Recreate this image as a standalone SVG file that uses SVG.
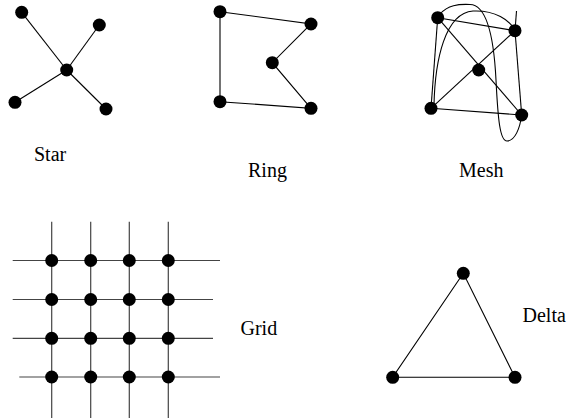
<svg xmlns="http://www.w3.org/2000/svg" width="569" height="418" viewBox="0 0 569 418">
<style>
.e{stroke:#000;stroke-width:1.1;fill:none}
.g{stroke:#444;stroke-width:1.2;fill:none}
.n{fill:#000}
.t{font-family:"Liberation Serif","Times New Roman",serif;font-size:20px;fill:#000}
</style>
<rect width="569" height="418" fill="#fff"/>
<g id="connectors">
<!-- Star -->
<line class="e" x1="21.7" y1="12.3" x2="66.7" y2="70"/>
<line class="e" x1="99.3" y1="25" x2="66.7" y2="70"/>
<line class="e" x1="15" y1="102.3" x2="66.7" y2="70"/>
<line class="e" x1="106" y1="109" x2="66.7" y2="70"/>
<!-- Ring -->
<polyline class="e" points="220,11.7 311,24 272.3,62.7 311,108.3 220,101.7 220,11.7"/>
<!-- Mesh -->
<line class="e" x1="437.7" y1="17.7" x2="515" y2="30.7"/>
<line class="e" x1="437.7" y1="17.7" x2="521.7" y2="115"/>
<line class="e" x1="515" y1="30.7" x2="431" y2="108.3"/>
<line class="e" x1="437.7" y1="17.7" x2="431" y2="108.3"/>
<line class="e" x1="515" y1="30.7" x2="521.7" y2="115"/>
<line class="e" x1="431" y1="108.3" x2="521.7" y2="115"/>
<line class="e" x1="516.5" y1="11" x2="515" y2="30.7"/>
<path class="e" d="M440,14 C448,5 458,4 470,4.5 C488,5 494,40 496,80 C498,120 500,141 507,141 C515,141 520,128 521.7,115"/>
<path class="e" d="M434,105 C435,60 445,13 473,11 C495,10 510,20 515,30.7"/>
<!-- Grid -->
<line class="g" x1="12.7" y1="260.5" x2="220" y2="260.5"/>
<line class="g" x1="12.7" y1="299.5" x2="213" y2="299.5"/>
<line class="g" x1="12.7" y1="338.3" x2="213" y2="338.3"/>
<line class="g" x1="19.3" y1="377" x2="220" y2="377"/>
<line class="g" x1="51.7" y1="221.7" x2="51.7" y2="418"/>
<line class="g" x1="90.7" y1="221.7" x2="90.7" y2="418"/>
<line class="g" x1="129.3" y1="221.7" x2="129.3" y2="418"/>
<line class="g" x1="168.3" y1="221.7" x2="168.3" y2="418"/>
<!-- Delta -->
<polygon class="e" points="463.3,273.3 392.7,377.3 515,377.3"/>
</g>
<g id="star">
<circle class="n" cx="21.7" cy="12.3" r="6.5"/>
<circle class="n" cx="99.3" cy="25" r="6.5"/>
<circle class="n" cx="66.7" cy="70" r="6.5"/>
<circle class="n" cx="15" cy="102.3" r="6.5"/>
<circle class="n" cx="106" cy="109" r="6.5"/>
<text class="t" x="34" y="161">Star</text>
</g>
<g id="ring">
<circle class="n" cx="220" cy="11.7" r="6.5"/>
<circle class="n" cx="311" cy="24" r="6.5"/>
<circle class="n" cx="272.3" cy="62.7" r="6.5"/>
<circle class="n" cx="220" cy="101.7" r="6.5"/>
<circle class="n" cx="311" cy="108.3" r="6.5"/>
<text class="t" x="248" y="177">Ring</text>
</g>
<g id="mesh">
<circle class="n" cx="437.7" cy="17.7" r="6.5"/>
<circle class="n" cx="515" cy="30.7" r="6.5"/>
<circle class="n" cx="478.7" cy="70" r="6.5"/>
<circle class="n" cx="431" cy="108.3" r="6.5"/>
<circle class="n" cx="521.7" cy="115" r="6.5"/>
<text class="t" x="459" y="177">Mesh</text>
</g>
<g id="grid">
<circle class="n" cx="51.7" cy="260.5" r="6.5"/>
<circle class="n" cx="90.7" cy="260.5" r="6.5"/>
<circle class="n" cx="129.3" cy="260.5" r="6.5"/>
<circle class="n" cx="168.3" cy="260.5" r="6.5"/>
<circle class="n" cx="51.7" cy="299.5" r="6.5"/>
<circle class="n" cx="90.7" cy="299.5" r="6.5"/>
<circle class="n" cx="129.3" cy="299.5" r="6.5"/>
<circle class="n" cx="168.3" cy="299.5" r="6.5"/>
<circle class="n" cx="51.7" cy="338.3" r="6.5"/>
<circle class="n" cx="90.7" cy="338.3" r="6.5"/>
<circle class="n" cx="129.3" cy="338.3" r="6.5"/>
<circle class="n" cx="168.3" cy="338.3" r="6.5"/>
<circle class="n" cx="51.7" cy="377" r="6.5"/>
<circle class="n" cx="90.7" cy="377" r="6.5"/>
<circle class="n" cx="129.3" cy="377" r="6.5"/>
<circle class="n" cx="168.3" cy="377" r="6.5"/>
<text class="t" x="240.5" y="335">Grid</text>
</g>
<g id="delta">
<circle class="n" cx="463.3" cy="273.3" r="6.5"/>
<circle class="n" cx="392.7" cy="377.3" r="6.5"/>
<circle class="n" cx="515" cy="377.3" r="6.5"/>
<text class="t" x="522.5" y="322">Delta</text>
</g>
</svg>
